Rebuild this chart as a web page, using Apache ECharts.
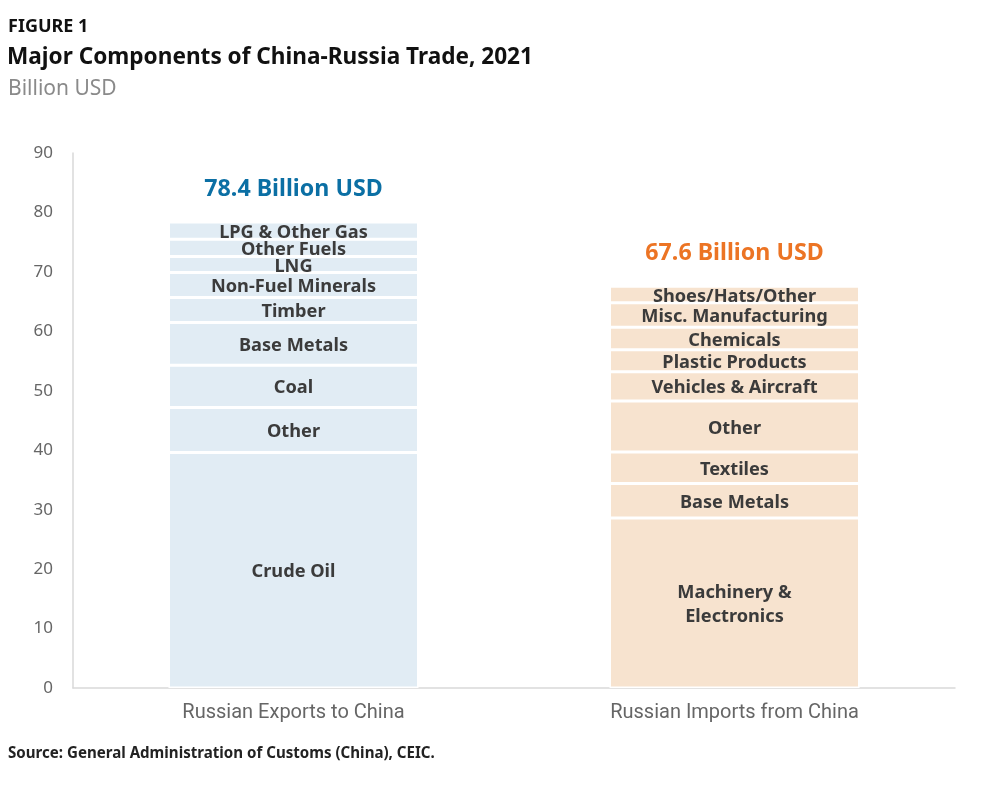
<!DOCTYPE html>
<html><head><meta charset="utf-8">
<script src="https://cdn.jsdelivr.net/npm/echarts@6/dist/echarts.min.js"></script>
<style>html,body{margin:0;padding:0;background:#fff}#c{width:1000px;height:803px}</style>
</head><body><div id="c"></div>
<script>
const categories = ['Russian Exports to China', 'Russian Imports from China'];
const exportNames = ['Crude Oil', 'Other', 'Coal', 'Base Metals', 'Timber', 'Non-Fuel Minerals', 'LNG', 'Other Fuels', 'LPG & Other Gas'];
const exportValues = [39.6, 7.6, 7.1, 7.2, 4.2, 4.2, 2.7, 2.9, 2.9];
const importNames = ['Machinery &\nElectronics', 'Base Metals', 'Textiles', 'Other', 'Vehicles & Aircraft', 'Plastic Products', 'Chemicals', 'Misc. Manufacturing', 'Shoes/Hats/Other'];
const importValues = [28.6, 5.8, 5.3, 8.6, 4.9, 3.7, 3.8, 4.1, 2.8];
const totals = [78.4, 67.6];
const totalLabels = ['78.4 Billion USD', '67.6 Billion USD'];
const yTicks = [0, 10, 20, 30, 40, 50, 60, 70, 80, 90];

const barColors = ['#e1ecf4', '#f7e3cf'];
const totalColors = ['#0b6fa4', '#ec7424'];
const FONT = '"Noto Sans", sans-serif';

const chart = echarts.init(document.getElementById('c'), null, {renderer: 'canvas'});
const series = exportValues.map((v, i) => ({
  type: 'bar', stack: 'trade', barWidth: 250,
  data: [
    {value: v, name: exportNames[i], itemStyle: {color: barColors[0]}},
    {value: importValues[i], name: importNames[i], itemStyle: {color: barColors[1]}}
  ],
  itemStyle: {borderColor: '#ffffff', borderWidth: 1.5},
  label: {show: true, position: 'inside', offset: [0, 2], formatter: p => p.name, color: '#3b3b3b',
    fontFamily: FONT, fontWeight: 'bold', fontSize: 18.2, lineHeight: 24},
  emphasis: {disabled: true}, silent: true
}));
series.push({
  type: 'scatter', symbolSize: 0, silent: true,
  itemStyle: {opacity: 1},
  emphasis: {disabled: true},
  data: totals.map((t, i) => ({value: [i, t], name: totalLabels[i],
    itemStyle: {color: totalColors[i]},
    label: {color: totalColors[i]}})),
  label: {show: true, position: 'top', distance: 21, formatter: p => p.name,
    fontFamily: FONT, fontWeight: 'bold', fontSize: 23.2}
});

chart.setOption({
  animation: false,
  backgroundColor: '#ffffff',
  title: [
    {text: 'FIGURE 1', left: 3, top: 13, textStyle: {fontFamily: FONT, fontWeight: 'bold', fontSize: 18, color: '#111'}},
    {text: 'Major Components of China-Russia Trade, 2021', left: 2, top: 41, textStyle: {fontFamily: FONT, fontWeight: 'bold', fontSize: 22.6, color: '#111'}},
    {text: 'Billion USD', left: 3, top: 74, textStyle: {fontFamily: FONT, fontWeight: 'normal', fontSize: 21, color: '#8a8a8a'}},
    {text: 'Source: General Administration of Customs (China), CEIC.', left: 3, top: 741, textStyle: {fontFamily: FONT, fontWeight: 'bold', fontSize: 15.1, color: '#222'}}
  ],
  grid: {left: 73, right: 45, top: 153, bottom: 115, containLabel: false},
  xAxis: {
    type: 'category', data: categories,
    axisLine: {lineStyle: {color: '#d9d9d9', width: 1.5}},
    axisTick: {show: false},
    axisLabel: {color: '#666', fontFamily: 'Roboto, sans-serif', fontSize: 20, margin: 15}
  },
  yAxis: {
    type: 'value', min: 0, max: 90, interval: 10,
    axisLine: {show: true, lineStyle: {color: '#d9d9d9', width: 1.5}},
    axisTick: {show: false},
    splitLine: {show: false},
    axisLabel: {color: '#666', fontFamily: FONT, fontSize: 17, margin: 20,
      formatter: v => yTicks.includes(v) ? String(v) : ''}
  },
  series: series
});
</script></body></html>
